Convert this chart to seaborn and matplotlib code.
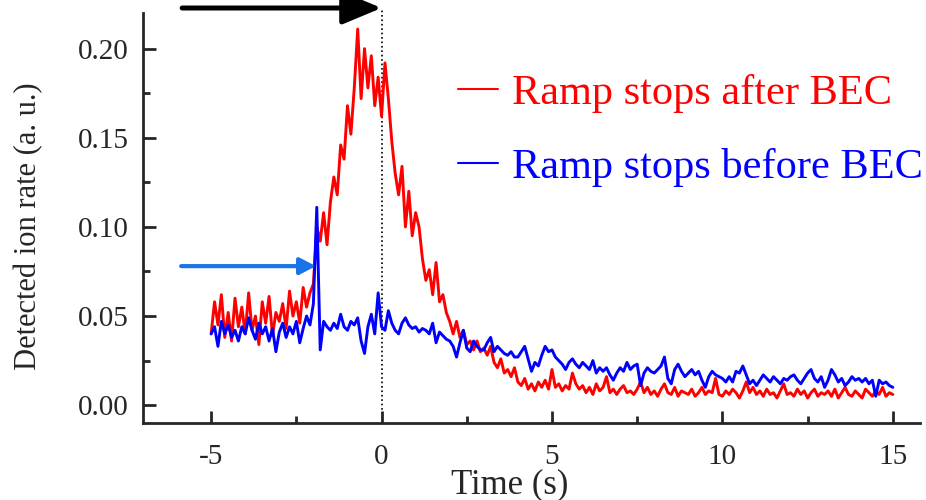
import numpy as np
import pandas as pd
import matplotlib
matplotlib.use("Agg")
import matplotlib.pyplot as plt
import seaborn as sns

# time axis (s), sampled every 0.1 s
time_s = np.round(np.arange(-5.0, 15.05, 0.1), 2)

# ramp stops after BEC (red)
after_bec = [
    0.040, 0.058, 0.045, 0.062, 0.038, 0.052, 0.036, 0.060, 0.044, 0.055,
    0.040, 0.063, 0.042, 0.050, 0.034, 0.058, 0.046, 0.061, 0.039, 0.052,
    0.047, 0.057, 0.043, 0.064, 0.050, 0.058, 0.046, 0.066, 0.055, 0.063,
    0.068, 0.100, 0.092, 0.108, 0.090, 0.114, 0.128, 0.118, 0.146, 0.138,
    0.168, 0.152, 0.178, 0.211, 0.172, 0.200, 0.178, 0.196, 0.168, 0.184,
    0.162, 0.192, 0.172, 0.148, 0.130, 0.118, 0.134, 0.100, 0.120, 0.095,
    0.108, 0.100, 0.082, 0.070, 0.076, 0.062, 0.080, 0.058, 0.062, 0.052,
    0.047, 0.040, 0.047, 0.038, 0.042, 0.034, 0.036, 0.031, 0.036, 0.030,
    0.032, 0.028, 0.033, 0.024, 0.021, 0.026, 0.018, 0.020, 0.016, 0.021,
    0.013, 0.011, 0.015, 0.009, 0.012, 0.008, 0.013, 0.010, 0.014, 0.009,
    0.020, 0.010, 0.012, 0.008, 0.011, 0.009, 0.018, 0.012, 0.009, 0.011,
    0.007, 0.010, 0.006, 0.012, 0.008, 0.010, 0.016, 0.007, 0.009, 0.006,
    0.009, 0.011, 0.007, 0.008, 0.006, 0.009, 0.013, 0.007, 0.010, 0.006,
    0.008, 0.005, 0.009, 0.012, 0.007, 0.006, 0.010, 0.005, 0.008, 0.007,
    0.006, 0.009, 0.005, 0.007, 0.010, 0.006, 0.008, 0.007, 0.015, 0.006,
    0.005, 0.008, 0.006, 0.009, 0.007, 0.004, 0.008, 0.013, 0.007, 0.010,
    0.006, 0.008, 0.005, 0.009, 0.006, 0.007, 0.004, 0.008, 0.012, 0.006,
    0.007, 0.005, 0.009, 0.006, 0.008, 0.004, 0.007, 0.009, 0.005, 0.007,
    0.006, 0.008, 0.005, 0.009, 0.004, 0.007, 0.010, 0.006, 0.005, 0.008,
    0.006, 0.004, 0.009, 0.007, 0.005, 0.008, 0.006, 0.010, 0.005, 0.007,
    0.006,
]

# ramp stops before BEC (blue)
before_bec = [
    0.040, 0.044, 0.033, 0.047, 0.040, 0.045, 0.038, 0.042, 0.036, 0.044,
    0.040, 0.049, 0.042, 0.037, 0.046, 0.040, 0.044, 0.036, 0.043, 0.030,
    0.041, 0.046, 0.038, 0.044, 0.040, 0.047, 0.035, 0.043, 0.050, 0.045,
    0.057, 0.111, 0.031, 0.047, 0.044, 0.042, 0.046, 0.043, 0.051, 0.044,
    0.042, 0.047, 0.045, 0.049, 0.036, 0.029, 0.044, 0.051, 0.040, 0.063,
    0.044, 0.042, 0.053, 0.046, 0.042, 0.040, 0.046, 0.049, 0.045, 0.043,
    0.044, 0.041, 0.043, 0.042, 0.040, 0.046, 0.035, 0.041, 0.039, 0.037,
    0.036, 0.033, 0.027, 0.035, 0.042, 0.032, 0.030, 0.036, 0.033, 0.031,
    0.031, 0.035, 0.038, 0.030, 0.033, 0.031, 0.029, 0.028, 0.030, 0.027,
    0.027, 0.030, 0.033, 0.026, 0.019, 0.024, 0.022, 0.028, 0.033, 0.030,
    0.031, 0.027, 0.025, 0.023, 0.020, 0.024, 0.026, 0.023, 0.021, 0.024,
    0.022, 0.020, 0.025, 0.018, 0.021, 0.019, 0.021, 0.017, 0.014, 0.018,
    0.021, 0.019, 0.024, 0.020, 0.022, 0.023, 0.011, 0.018, 0.021, 0.019,
    0.018, 0.020, 0.022, 0.027, 0.015, 0.012, 0.020, 0.023, 0.019, 0.016,
    0.018, 0.020, 0.017, 0.019, 0.014, 0.010, 0.016, 0.019, 0.017, 0.016,
    0.015, 0.013, 0.016, 0.013, 0.019, 0.018, 0.022, 0.017, 0.012, 0.014,
    0.011, 0.014, 0.017, 0.015, 0.013, 0.016, 0.014, 0.012, 0.015, 0.014,
    0.016, 0.017, 0.014, 0.012, 0.015, 0.018, 0.020, 0.015, 0.013, 0.016,
    0.010, 0.014, 0.020, 0.017, 0.013, 0.015, 0.011, 0.013, 0.016, 0.014,
    0.015, 0.013, 0.015, 0.012, 0.014, 0.005, 0.014, 0.012, 0.013, 0.011,
    0.010,
]

series_names = ["Ramp stops after BEC", "Ramp stops before BEC"]
series_colors = ["#ff0000", "#0000ff"]
x_ticks = [-5, 0, 5, 10, 15]
y_ticks = [0.00, 0.05, 0.10, 0.15, 0.20]

df = pd.concat([
    pd.DataFrame({"t": time_s, "rate": after_bec, "run": series_names[0]}),
    pd.DataFrame({"t": time_s, "rate": before_bec, "run": series_names[1]}),
])

sns.set_style("ticks")
plt.rcParams["font.family"] = ["Liberation Serif", "DejaVu Serif"]

fig = plt.figure(figsize=(9.26, 5), dpi=100)
ax = fig.add_axes([0.1544, 0.154, 0.8392, 0.820])

sns.lineplot(data=df, x="t", y="rate", hue="run", hue_order=series_names,
             palette=series_colors, linewidth=2.1, ax=ax, legend=True)

# dotted marker at t = 0, running up to the arrow tip
ax.plot([0, 0], [-0.01, 0.2228], color="black", linestyle=":", linewidth=1.2,
        zorder=0, clip_on=False)

ax.set_xlim(-7, 15.8)
ax.set_ylim(-0.01, 0.22)
ax.set_xticks(x_ticks)
ax.set_xticklabels([str(v) for v in x_ticks])
ax.set_yticks(y_ticks)
ax.set_yticklabels([f"{v:.2f}" for v in y_ticks])
ax.set_xticks([-2.5, 2.5, 7.5, 12.5], minor=True)
ax.set_yticks([0.025, 0.075, 0.125, 0.175], minor=True)
ax.tick_params(which="major", direction="in", length=9, width=2, labelsize=21)
ax.tick_params(axis="x", which="major", pad=15)
ax.tick_params(axis="y", which="major", pad=10)
ax.tick_params(which="minor", direction="in", length=5, width=2)
sns.despine(ax=ax)
for s in ["left", "bottom"]:
    ax.spines[s].set_linewidth(2)

ax.set_xlabel("Time (s)", fontsize=25)
ax.xaxis.set_label_coords(0.472, -0.11)
ax.set_ylabel("Detected ion rate (a. u.)", fontsize=22)
ax.yaxis.set_label_coords(-0.128, 0.48)

leg = ax.legend(loc="upper left", bbox_to_anchor=(458 / 926, 1 - 74 / 500),
                bbox_transform=fig.transFigure, frameon=False, fontsize=30.5,
                handlelength=0.95, handletextpad=0.33, labelspacing=0.83,
                borderpad=0, borderaxespad=0, labelcolor="linecolor")
for h in leg.get_lines():
    h.set_linewidth(1.5)

# arrows
ax.annotate("", xy=(0, 0.2228), xytext=(-5.85, 0.2228), annotation_clip=False,
            arrowprops=dict(arrowstyle="-|>,head_length=1.2,head_width=0.5",
                            color="black", lw=3.6, mutation_scale=20,
                            shrinkA=0, shrinkB=0))
ax.annotate("", xy=(-1.93, 0.078), xytext=(-5.88, 0.078),
            arrowprops=dict(arrowstyle="-|>,head_length=0.95,head_width=0.5",
                            color="#1a73e8", lw=3.0, mutation_scale=10,
                            shrinkA=0, shrinkB=0))

fig.savefig("out.png", dpi=100)
